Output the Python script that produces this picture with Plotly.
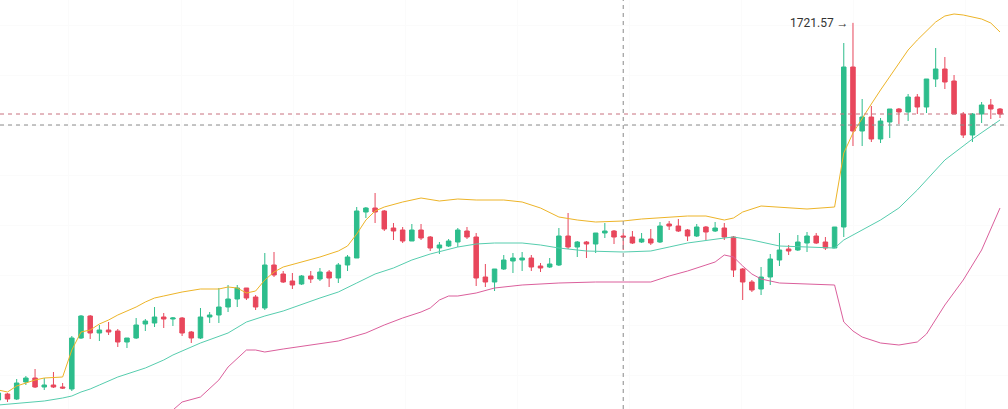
import plotly.graph_objects as go

# ---- candle data (index = bar number) ----
opens = [1533.0, 1536.0, 1533.5, 1542.0, 1544.0, 1539.5, 1540.5, 1539.5, 1538.5, 1564.0,
         1575.0, 1566.5, 1568.0, 1567.5, 1562.0, 1564.0, 1571.0, 1571.5, 1574.5, 1573.5,
         1574.0, 1567.0, 1564.0, 1574.5, 1575.5, 1579.5, 1583.5, 1589.0, 1584.5, 1579.0,
         1600.5, 1596.0, 1592.5, 1591.0, 1595.0, 1593.5, 1597.0, 1594.0, 1600.5, 1604.0,
         1627.0, 1629.0, 1627.5, 1619.0, 1618.0, 1612.5, 1618.0, 1614.5, 1609.0, 1610.0,
         1612.0, 1617.5, 1614.5, 1594.5, 1592.0, 1598.5, 1602.5, 1603.0, 1604.0, 1600.0,
         1599.5, 1600.5, 1615.0, 1609.5, 1612.0, 1611.0, 1616.5, 1617.5, 1615.0, 1614.5,
         1612.0, 1613.5, 1612.0, 1621.0, 1620.0, 1618.0, 1615.0, 1619.5, 1617.5, 1619.0,
         1614.5, 1598.5, 1592.0, 1588.5, 1594.5, 1603.0, 1608.5, 1608.0, 1611.5, 1615.0,
         1612.0, 1609.0, 1619.5, 1699.5, 1667.5, 1674.5, 1663.5, 1672.0, 1678.5, 1677.0,
         1684.5, 1679.5, 1693.5, 1698.5, 1692.5, 1676.0, 1665.5, 1676.0, 1680.5, 1678.5]
highs = [1537.0, 1536.5, 1543.5, 1545.0, 1548.5, 1544.0, 1547.0, 1541.5, 1565.0, 1575.5,
         1575.5, 1570.5, 1572.0, 1568.5, 1564.0, 1574.0, 1573.5, 1579.5, 1576.5, 1574.5,
         1574.5, 1567.5, 1579.0, 1577.0, 1589.0, 1590.5, 1590.5, 1589.0, 1585.5, 1606.5,
         1607.0, 1597.5, 1596.5, 1595.5, 1597.5, 1599.0, 1598.0, 1601.5, 1605.5, 1629.5,
         1629.5, 1636.5, 1628.0, 1621.5, 1619.5, 1621.0, 1621.0, 1615.0, 1612.0, 1613.5,
         1619.0, 1619.5, 1616.5, 1601.0, 1598.5, 1605.5, 1606.5, 1607.0, 1605.5, 1601.5,
         1604.0, 1619.0, 1626.5, 1612.5, 1612.5, 1616.5, 1621.5, 1618.0, 1616.5, 1617.5,
         1616.5, 1618.5, 1622.0, 1622.5, 1623.5, 1618.5, 1621.0, 1620.0, 1622.0, 1621.5,
         1615.0, 1599.0, 1593.0, 1599.5, 1606.0, 1616.5, 1610.5, 1615.5, 1617.0, 1616.5,
         1614.5, 1619.5, 1711.5, 1721.57, 1683.5, 1680.0, 1674.0, 1678.5, 1679.0, 1686.0,
         1686.0, 1693.5, 1709.0, 1704.5, 1695.5, 1677.0, 1676.5, 1682.0, 1683.5, 1679.0]
lows = [1530.0, 1532.0, 1533.0, 1540.5, 1539.0, 1538.0, 1539.0, 1538.5, 1537.5, 1563.5,
        1563.5, 1562.5, 1565.5, 1559.5, 1559.0, 1563.5, 1567.5, 1569.5, 1569.0, 1570.0,
        1565.0, 1561.5, 1563.5, 1571.5, 1571.5, 1577.0, 1579.5, 1583.0, 1578.0, 1578.0,
        1594.5, 1591.5, 1588.5, 1590.5, 1591.5, 1592.5, 1589.5, 1591.5, 1597.5, 1604.0,
        1624.0, 1621.5, 1617.5, 1613.0, 1611.5, 1612.5, 1613.0, 1607.5, 1606.0, 1609.5,
        1609.5, 1613.5, 1590.0, 1589.5, 1587.5, 1598.0, 1596.5, 1597.5, 1597.5, 1597.0,
        1599.0, 1600.0, 1608.5, 1604.5, 1604.0, 1606.5, 1614.0, 1611.0, 1608.0, 1611.0,
        1611.5, 1610.5, 1611.5, 1618.0, 1617.0, 1612.5, 1614.5, 1613.0, 1617.0, 1613.0,
        1594.5, 1583.0, 1587.0, 1585.5, 1590.5, 1600.0, 1605.5, 1607.5, 1607.0, 1611.0,
        1608.0, 1609.0, 1614.5, 1660.0, 1660.0, 1662.0, 1661.5, 1664.0, 1671.0, 1672.5,
        1676.0, 1676.5, 1689.5, 1688.5, 1676.0, 1664.0, 1662.0, 1671.5, 1673.5, 1674.0]
closes = [1536.5, 1533.5, 1541.5, 1544.0, 1539.5, 1540.5, 1539.5, 1539.0, 1564.0, 1575.0,
          1566.5, 1568.0, 1567.0, 1562.0, 1564.0, 1570.5, 1572.5, 1574.5, 1573.5, 1574.0,
          1566.5, 1564.0, 1574.5, 1575.5, 1579.5, 1583.5, 1589.0, 1584.0, 1579.5, 1600.5,
          1595.5, 1592.0, 1590.5, 1595.0, 1593.5, 1597.0, 1594.0, 1600.5, 1604.5, 1627.5,
          1629.0, 1627.0, 1618.5, 1617.5, 1612.5, 1618.0, 1614.0, 1609.0, 1610.5, 1612.5,
          1618.0, 1614.5, 1594.0, 1592.0, 1598.5, 1603.0, 1604.0, 1604.0, 1599.5, 1599.0,
          1601.0, 1615.0, 1609.5, 1612.0, 1611.0, 1616.5, 1617.5, 1614.5, 1614.5, 1611.5,
          1613.5, 1611.5, 1620.0, 1620.0, 1617.5, 1615.0, 1619.5, 1617.0, 1619.0, 1614.5,
          1598.0, 1592.0, 1588.0, 1594.5, 1603.5, 1608.0, 1607.5, 1612.0, 1615.0, 1611.5,
          1609.0, 1619.5, 1699.5, 1667.5, 1674.5, 1663.5, 1672.5, 1678.5, 1677.0, 1684.5,
          1679.5, 1693.5, 1698.5, 1692.0, 1676.0, 1665.5, 1676.0, 1680.5, 1678.5, 1676.0]
bars = list(range(len(closes)))

# ---- Bollinger band readings (bar index, value) ----
upper_x = [0, 1, 2, 4, 5, 7, 8, 9, 10, 11, 12, 13, 14, 15, 16, 17, 18, 20, 22, 24, 25, 26, 27, 28,
           29, 30, 31, 33, 35, 37, 38, 39, 40, 41, 42, 44, 46, 48, 50, 52, 55, 57, 59, 61, 63,
           65, 68, 70, 72, 75, 77, 78, 79, 80, 81, 83, 86, 88, 91, 92, 93, 94, 95, 96, 97, 98,
           99, 100, 101, 102, 103, 104, 105, 106, 107, 108, 109]
upper_y = [1538.0, 1537.0, 1540.0, 1543.0, 1544.0, 1544.5, 1558.0, 1567.0, 1568.0, 1571.0, 1573.0,
           1575.5, 1577.5, 1579.5, 1582.0, 1584.0, 1585.0, 1587.0, 1588.5, 1588.5, 1589.5, 1589.0,
           1586.5, 1587.5, 1593.0, 1597.0, 1599.5, 1602.0, 1604.5, 1607.5, 1610.0, 1616.0, 1623.0,
           1627.5, 1629.5, 1632.0, 1634.0, 1632.5, 1633.5, 1633.0, 1633.0, 1632.0, 1629.0, 1624.5,
           1623.0, 1622.0, 1622.5, 1623.5, 1624.0, 1625.0, 1625.0, 1624.0, 1623.0, 1624.0, 1627.0,
           1630.0, 1629.0, 1628.5, 1629.5, 1656.5, 1666.5, 1674.0, 1681.0, 1688.0, 1694.5, 1701.5,
           1708.0, 1713.0, 1717.5, 1722.0, 1725.0, 1726.0, 1725.5, 1724.5, 1723.5, 1721.5, 1717.0]

mid_x = [0, 3, 5, 7, 8, 9, 10, 11, 13, 16, 18, 19, 21, 22, 25, 27, 29, 31, 35, 37, 39, 41, 43, 45,
         47, 50, 52, 54, 57, 59, 61, 64, 68, 71, 73, 75, 79, 80, 82, 85, 88, 91, 92, 94, 96, 98,
         100, 102, 103, 106, 109]
mid_y = [1530.5, 1531.5, 1532.5, 1534.0, 1535.0, 1537.0, 1538.5, 1540.5, 1544.5, 1549.0, 1553.0,
         1555.5, 1559.5, 1561.5, 1566.5, 1572.0, 1575.0, 1577.5, 1584.0, 1587.0, 1591.5, 1596.0,
         1599.0, 1603.0, 1606.0, 1609.5, 1611.0, 1611.5, 1611.5, 1610.5, 1609.0, 1607.5, 1607.0,
         1607.5, 1609.5, 1611.5, 1614.0, 1614.5, 1613.0, 1610.0, 1609.5, 1609.0, 1613.0, 1618.0,
         1623.0, 1629.0, 1638.0, 1648.0, 1653.0, 1663.5, 1673.0]

lower_x = [19, 20, 22, 24, 25, 27, 28, 29, 31, 34, 37, 40, 42, 44, 46, 47, 48, 49, 50, 52, 54, 57,
           61, 65, 71, 73, 75, 77, 78, 79, 80, 81, 82, 83, 85, 88, 91, 92, 93, 94, 96, 98, 100,
           101, 102, 103, 105, 107, 109]
lower_y = [1528.0, 1532.0, 1534.5, 1543.0, 1549.5, 1558.0, 1558.0, 1557.0, 1558.5, 1560.5, 1562.5,
           1566.5, 1570.5, 1574.0, 1577.0, 1579.0, 1583.0, 1585.0, 1585.0, 1586.5, 1589.0, 1590.5,
           1591.5, 1592.0, 1592.0, 1595.0, 1597.5, 1600.5, 1602.0, 1605.5, 1604.5, 1600.0, 1596.0,
           1593.5, 1591.5, 1591.0, 1590.5, 1572.0, 1567.5, 1564.5, 1561.5, 1560.5, 1562.0, 1566.0,
           1573.0, 1580.5, 1593.0, 1608.0, 1629.0]

cross_bar = 68
cross_price = 1670.5
high_label = "1721.57 →"

UP = "#2DBD8C"
DOWN = "#E8475C"

fig = go.Figure()
fig.add_trace(go.Scatter(x=upper_x, y=upper_y, mode="lines",
                         line=dict(color="#EDB428", width=1), hoverinfo="skip"))
fig.add_trace(go.Scatter(x=mid_x, y=mid_y, mode="lines",
                         line=dict(color="#56CDAE", width=1), hoverinfo="skip"))
fig.add_trace(go.Scatter(x=lower_x, y=lower_y, mode="lines",
                         line=dict(color="#DB5F9C", width=1), hoverinfo="skip"))
fig.add_trace(go.Candlestick(
    x=bars, open=opens, high=highs, low=lows, close=closes,
    increasing=dict(line=dict(color=UP, width=1), fillcolor=UP),
    decreasing=dict(line=dict(color=DOWN, width=1), fillcolor=DOWN),
    whiskerwidth=0,
))

hi_idx = highs.index(max(highs))
fig.add_annotation(x=bars[hi_idx], y=highs[hi_idx], text=high_label, showarrow=False,
                   xanchor="right", yanchor="middle", xshift=-2,
                   font=dict(family="Roboto, Arial", size=12, color="#333333"))

# crosshair and last-price lines
fig.add_shape(type="line", xref="x", yref="paper", x0=cross_bar, x1=cross_bar, y0=0, y1=1,
              line=dict(color="#8a8a8a", width=1, dash="4px,4px"))
fig.add_shape(type="line", xref="paper", yref="y", x0=0, x1=1, y0=cross_price, y1=cross_price,
              line=dict(color="#8a8a8a", width=1, dash="4px,4px"))
fig.add_shape(type="line", xref="paper", yref="y", x0=0, x1=1, y0=closes[-1], y1=closes[-1],
              line=dict(color="#C8707E", width=1, dash="4px,4px"))

fig.update_layout(
    width=1008, height=409, margin=dict(l=0, r=0, t=0, b=0),
    paper_bgcolor="white", plot_bgcolor="white", showlegend=False,
    xaxis=dict(range=[0.185, 109.87], showticklabels=False, showgrid=True,
               gridcolor="#fbfbfb", tick0=7.69, dtick=12.19, zeroline=False,
               rangeslider=dict(visible=False), showline=False, fixedrange=True),
    yaxis=dict(range=[1528.5, 1733.0], showticklabels=False, showgrid=True,
               gridcolor="#fbfbfb", tick0=1720.5, dtick=25, zeroline=False,
               showline=False, fixedrange=True),
)

fig.write_html("out.html")
